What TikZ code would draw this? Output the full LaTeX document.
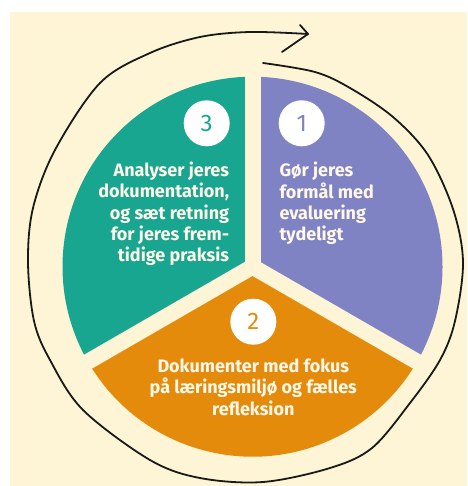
\documentclass[tikz,border=0pt]{standalone}
\usepackage{fontspec}
\setmainfont{Fira Sans}
\definecolor{cream}{RGB}{253,245,214}
\definecolor{tealC}{RGB}{24,166,144}
\definecolor{purpC}{RGB}{127,131,196}
\definecolor{orC}{RGB}{228,139,12}
\definecolor{txtC}{RGB}{255,248,232}
\definecolor{inkC}{RGB}{25,25,25}
\tikzset{
  sector/.style={draw=none},
  gapline/.style={draw=cream, line width=16pt},
  numcirc/.style={circle, fill=white, minimum size=46pt, inner sep=0pt, font=\fontsize{24}{24}\selectfont},
  txt/.style={inner sep=0pt, text=txtC, font=\fontsize{18}{21.3}\selectfont\bfseries},
  spiral/.style={draw=inkC, line width=1.8pt, line cap=round, line join=round}
}
\begin{document}
\begin{tikzpicture}[x=1pt,y=-1pt]
\useasboundingbox (0,0) rectangle (467,486);
\fill[white] (0,0) rectangle (467,486);
\fill[cream] (10,12) rectangle (467,486);
\coordinate (O) at (252.5,266.7);
% sectors
\fill[purpC] (O) -- ++(-90:190) arc[start angle=-90, end angle=30, radius=190] -- cycle;
\fill[tealC] (O) -- ++(-90:190) arc[start angle=-90, end angle=-210, radius=190] -- cycle;
\fill[orC] (O) -- ++(150:190) arc[start angle=150, end angle=30, radius=190] -- cycle;
% gaps
\draw[gapline] (O) -- ++(-90:200);
\draw[gapline] (O) -- ++(30:200);
\draw[gapline] (O) -- ++(150:200);
% number circles
\node[numcirc, text=purpC] (n1) at (301.7,123.3) {1};
\node[numcirc, text=orC] (n2) at (253.3,321.7) {2};
\node[numcirc, text=tealC] (n3) at (206.7,123.3) {3};
% texts (base anchor = baseline of the last line)
\node[txt, align=right, anchor=base east] (t3) at (229.3,261.7) {Analyser jeres\\dokumentation,\\og sæt retning\\for jeres frem-\\tidige praksis};
\node[txt, align=left, anchor=base west] (t1) at (279.3,240.6) {Gør jeres\\formål med\\evaluering\\tydeligt};
\node[txt, align=center, anchor=base] (t2) at (253.3,415) {Dokumenter med fokus\\på læringsmiljø og fælles\\refleksion};
% spiral arrow
\coordinate (s0) at (263,63);
\coordinate (tip) at (308,34);
\coordinate (b1) at (300,25);
\coordinate (b2) at (282,52);
\draw[spiral] plot[smooth, tension=0.55] coordinates {(263,63) (315,72) (350,88) (393,117) (428,155) (453,209) (463,262) (455,321) (440,360) (410,403) (372,448) (330,468) (263,482) (200,478) (150,460) (83,410) (50,360) (34,321) (28,262) (33,208) (55,150) (100,83) (150,53) (200,37) (250,32) (308,34)};
\draw[spiral] (b1) -- (tip) -- (b2);
\end{tikzpicture}
\end{document}
